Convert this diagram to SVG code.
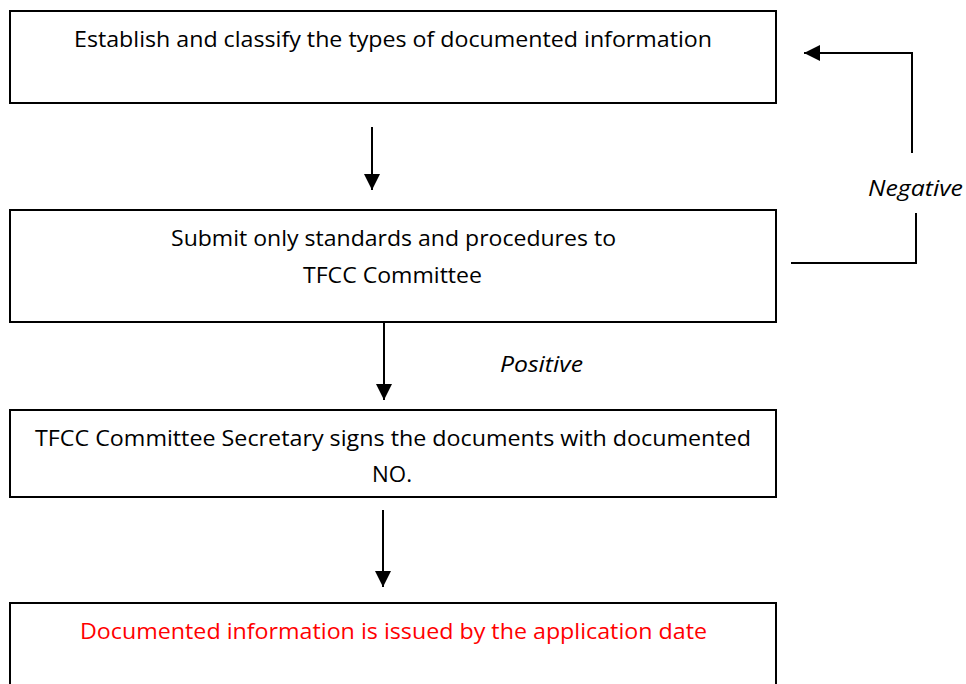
<svg xmlns="http://www.w3.org/2000/svg" width="966" height="684" viewBox="0 0 966 684">
<style>
.box{fill:#fff;stroke:#000;stroke-width:2}
.t{font-family:"Open Sans","Liberation Sans",sans-serif;font-size:21px;fill:#000}
.i{font-style:italic}
.red{fill:#ff0000}
.ln{fill:none;stroke:#000;stroke-width:2}
</style>
<defs>
<marker id="ah" markerWidth="8" markerHeight="8" refX="8" refY="4" orient="auto" markerUnits="strokeWidth">
<path d="M0,0 L8,4 L0,8 Z" fill="#000"/>
</marker>
</defs>
<rect width="966" height="684" fill="#fff"/>
<g id="n1">
<rect class="box" x="10" y="11" width="766" height="92"/>
<text class="t" x="74" y="47" textLength="638" lengthAdjust="spacingAndGlyphs">Establish and classify the types of documented information</text>
</g>
<g id="n2">
<rect class="box" x="10" y="210" width="766" height="112"/>
<text class="t" x="171" y="246" textLength="445" lengthAdjust="spacingAndGlyphs">Submit only standards and procedures to</text>
<text class="t" x="303" y="283" textLength="179" lengthAdjust="spacingAndGlyphs">TFCC Committee</text>
</g>
<g id="n3">
<rect class="box" x="10" y="410" width="766" height="87"/>
<text class="t" x="35" y="446" textLength="716" lengthAdjust="spacingAndGlyphs">TFCC Committee Secretary signs the documents with documented</text>
<text class="t" x="372" y="482" textLength="40" lengthAdjust="spacingAndGlyphs">NO.</text>
</g>
<g id="n4">
<rect class="box" x="10" y="603" width="766" height="100"/>
<text class="t red" x="80" y="639" textLength="627" lengthAdjust="spacingAndGlyphs">Documented information is issued by the application date</text>
</g>
<g id="connectors">
<line class="ln" x1="372" y1="127" x2="372" y2="190" marker-end="url(#ah)"/>
<line class="ln" x1="384" y1="322" x2="384" y2="400" marker-end="url(#ah)"/>
<line class="ln" x1="383" y1="510" x2="383" y2="587" marker-end="url(#ah)"/>
<polyline class="ln" points="791,263 916,263 916,213"/>
<polyline class="ln" points="912,153 912,53 804,53" marker-end="url(#ah)"/>
<text class="t i" x="868" y="196" textLength="95" lengthAdjust="spacingAndGlyphs">Negative</text>
<text class="t i" x="500" y="372" textLength="83" lengthAdjust="spacingAndGlyphs">Positive</text>
</g>
</svg>
